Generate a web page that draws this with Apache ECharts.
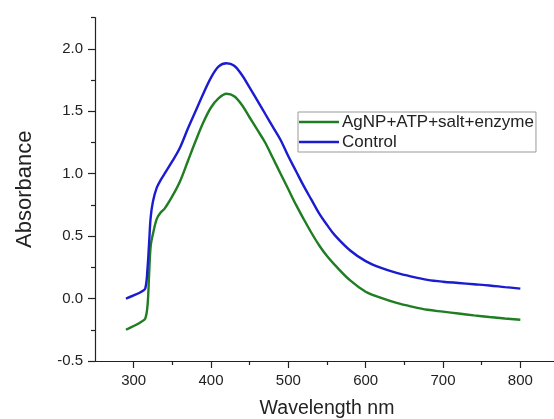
<!DOCTYPE html>
<html>
<head>
<meta charset="utf-8">
<script src="https://cdn.jsdelivr.net/npm/echarts@6/dist/echarts.min.js"></script>
<style>
html,body{margin:0;padding:0;background:#fff;}
#chart{width:554px;height:419px;}
</style>
</head>
<body>
<div id="chart"></div>
<script>
// Wavelength (nm) sample points
var wavelengths = [290, 300, 310, 315, 318, 320, 322, 325, 330, 335, 340, 350, 360, 370, 380, 390, 400, 410, 420, 430, 440, 450, 460, 470, 480, 490, 500, 510, 520, 530, 540, 550, 560, 580, 600, 620, 640, 660, 680, 700, 720, 740, 760, 780, 800];
// AgNP+ATP+salt+enzyme absorbance
var sampleValues = [-0.25, -0.22, -0.185, -0.16, -0.05, 0.2, 0.42, 0.52, 0.64, 0.69, 0.72, 0.82, 0.94, 1.10, 1.26, 1.41, 1.53, 1.605, 1.64, 1.62, 1.55, 1.45, 1.35, 1.25, 1.125, 1.00, 0.875, 0.75, 0.635, 0.525, 0.425, 0.34, 0.27, 0.145, 0.055, 0.005, -0.035, -0.065, -0.09, -0.105, -0.12, -0.135, -0.148, -0.16, -0.17];
// Control absorbance
var controlValues = [0.0, 0.025, 0.055, 0.08, 0.25, 0.45, 0.65, 0.78, 0.89, 0.95, 1.00, 1.10, 1.21, 1.36, 1.50, 1.64, 1.77, 1.86, 1.885, 1.865, 1.79, 1.69, 1.585, 1.48, 1.375, 1.27, 1.14, 1.02, 0.90, 0.79, 0.68, 0.59, 0.508, 0.385, 0.30, 0.245, 0.205, 0.175, 0.15, 0.135, 0.125, 0.115, 0.105, 0.092, 0.08];
var seriesNames = ['AgNP+ATP+salt+enzyme', 'Control'];
var xMajorTicks = [300, 400, 500, 600, 700, 800];
var xMinorTicks = [350, 450, 550, 650, 750];
var yMajorTicks = [-0.5, 0, 0.5, 1.0, 1.5, 2.0];
var yMinorTicks = [-0.25, 0.25, 0.75, 1.25, 1.75, 2.25];

function pairs(xs, ys) { return xs.map(function (x, i) { return [x, ys[i]]; }); }

var font = '"Liberation Sans", Arial, sans-serif';
var axisColor = '#222';
var colors = ['#1f7d22', '#1b1bd0'];
var chart = echarts.init(document.getElementById('chart'), null, {renderer: 'canvas'});
chart.setOption({
  animation: false,
  backgroundColor: '#fff',
  grid: {left: 95, top: 17.6, width: 464, height: 343.4, containLabel: false, outerBoundsMode: 'none'},
  legend: {
    orient: 'vertical',
    left: 298, top: 112,
    width: 239,
    padding: [1, 2, 1, 1],
    itemGap: 2,
    itemWidth: 40, itemHeight: 2.6,
    borderColor: '#999', borderWidth: 1,
    textStyle: {fontFamily: font, fontSize: 17, lineHeight: 18, color: '#222', padding: [0, 0, 0, -2]},
    data: [{name: seriesNames[0], icon: 'rect'}, {name: seriesNames[1], icon: 'rect'}]
  },
  xAxis: [{
    type: 'value', min: 250, max: 850,
    position: 'bottom',
    name: 'Wavelength nm', nameLocation: 'middle', nameGap: 38,
    nameTextStyle: {fontFamily: font, fontSize: 19.5, color: '#222'},
    axisLine: {show: true, onZero: false, lineStyle: {color: axisColor, width: 1.2}},
    axisTick: {show: true, customValues: xMajorTicks, length: 7, inside: false, lineStyle: {color: axisColor, width: 1.2}},
    axisLabel: {customValues: xMajorTicks, margin: 12, fontFamily: font, fontSize: 15, color: '#222'},
    splitLine: {show: false}
  }, {
    type: 'value', min: 250, max: 850,
    position: 'bottom', offset: 0,
    axisLine: {show: false, onZero: false},
    axisTick: {show: true, customValues: xMinorTicks, length: 4, lineStyle: {color: axisColor, width: 1.2}},
    axisLabel: {show: false},
    splitLine: {show: false}
  }],
  yAxis: [{
    type: 'value', min: -0.5, max: 2.25,
    position: 'left',
    name: 'Absorbance', nameLocation: 'middle', nameGap: 59, nameRotate: 90,
    nameTextStyle: {fontFamily: font, fontSize: 22, color: '#222'},
    axisLine: {show: true, onZero: false, lineStyle: {color: axisColor, width: 1.2}},
    axisTick: {show: true, customValues: yMajorTicks, length: 7, lineStyle: {color: axisColor, width: 1.2}},
    axisLabel: {customValues: yMajorTicks, margin: 12, fontFamily: font, fontSize: 15, color: '#222',
      formatter: function (v) { return v.toFixed(1); }},
    splitLine: {show: false}
  }, {
    type: 'value', min: -0.5, max: 2.25,
    position: 'left', offset: 0,
    axisLine: {show: false, onZero: false},
    axisTick: {show: true, customValues: yMinorTicks, length: 4, lineStyle: {color: axisColor, width: 1.2}},
    axisLabel: {show: false},
    splitLine: {show: false}
  }],
  series: [{
    name: seriesNames[0], type: 'line', xAxisIndex: 0, yAxisIndex: 0,
    data: pairs(wavelengths, sampleValues),
    symbol: 'none', showSymbol: false, smooth: 0.35,
    lineStyle: {color: colors[0], width: 2.4}, itemStyle: {color: colors[0]}
  }, {
    name: seriesNames[1], type: 'line', xAxisIndex: 0, yAxisIndex: 0,
    data: pairs(wavelengths, controlValues),
    symbol: 'none', showSymbol: false, smooth: 0.35,
    lineStyle: {color: colors[1], width: 2.4}, itemStyle: {color: colors[1]}
  }]
});
</script>
</body>
</html>
